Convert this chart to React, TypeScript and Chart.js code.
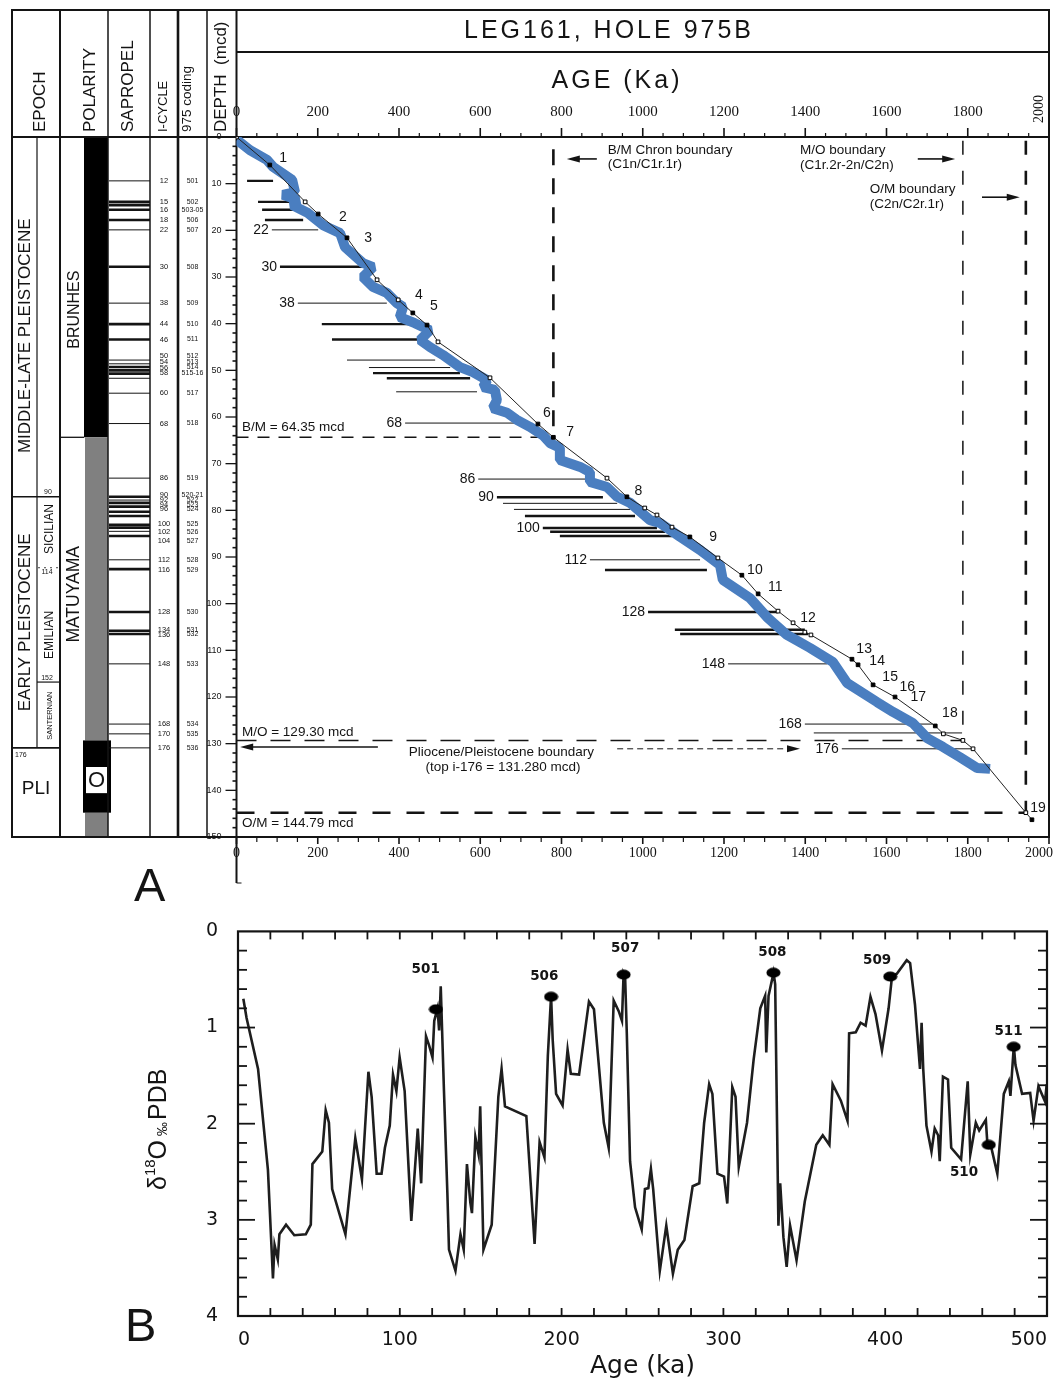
import React, { useEffect, useRef } from 'react';
import { Chart, registerables } from 'chart.js';

Chart.register(...registerables);

const SANS = '"Liberation Sans", Arial, Helvetica, sans-serif';
const SERIF = '"Liberation Serif", "Times New Roman", serif';
const DEJAVU = '"DejaVu Sans", Verdana, sans-serif';
const INK = '#141414';
const BLUE = '#4a7ec0';

// ================= Panel A: LEG161, HOLE 975B age model =================

const ageTicks = [0, 200, 400, 600, 800, 1000, 1200, 1400, 1600, 1800, 2000];
const depthTicks = [0, 10, 20, 30, 40, 50, 60, 70, 80, 90, 100, 110, 120, 130, 140, 150];

// Age-model control points (thin black line), age in ka, depth in mcd
const modelAge = [0, 82, 169, 201, 272, 346, 398, 434, 469, 496, 624, 742, 780, 912, 961, 1005, 1035, 1072, 1116, 1185, 1244, 1284, 1333, 1370, 1399, 1414, 1515, 1530, 1567, 1621, 1720, 1740, 1788, 1813, 1943, 1958];
const modelDepth = [0, 6.0, 13.9, 16.5, 21.6, 30.6, 34.9, 37.7, 40.3, 43.9, 51.6, 61.5, 64.35, 73.1, 77.1, 79.5, 81.0, 83.6, 85.7, 90.2, 93.9, 97.9, 101.6, 104.1, 106.1, 106.7, 111.9, 113.1, 117.4, 120.0, 126.2, 127.9, 129.3, 131.1, 144.79, 146.3];
const modelFilled = [0, 1, 0, 1, 1, 0, 0, 1, 1, 0, 0, 1, 1, 0, 1, 0, 0, 0, 1, 0, 1, 1, 0, 0, 0, 0, 1, 1, 1, 1, 1, 0, 0, 0, 0, 1];

// Tuned record (thick blue band)
const tunedAge = [1, 33, 75, 90, 137, 144, 114, 151, 137, 176, 213, 255, 267, 311, 336, 311, 336, 370, 395, 410, 402, 439, 476, 452, 476, 508, 550, 582, 617, 607, 636, 641, 631, 666, 690, 722, 754, 772, 796, 796, 846, 870, 870, 912, 937, 969, 1018, 1042, 1092, 1141, 1190, 1197, 1264, 1306, 1355, 1412, 1468, 1503, 1577, 1616, 1665, 1700, 1739, 1781, 1823, 1855];
const tunedDepth = [0.6, 2.8, 4.9, 6.4, 9.2, 11.8, 12.4, 13.5, 14.6, 16.3, 18.9, 20.6, 23.6, 27.0, 27.9, 30.0, 32.1, 33.4, 35.6, 36.4, 38.6, 39.9, 41.4, 43.5, 45.0, 46.7, 49.3, 50.4, 52.1, 53.6, 54.2, 56.4, 58.1, 59.1, 60.6, 62.1, 63.9, 65.6, 66.6, 69.2, 70.7, 71.8, 73.9, 75.0, 77.1, 78.4, 82.1, 82.7, 85.7, 88.5, 91.7, 94.9, 98.8, 102.9, 106.7, 109.5, 112.5, 117.0, 121.1, 123.2, 125.6, 128.8, 130.7, 132.9, 135.2, 135.4];

// Control-point numbers
const controlLabel = ['1', '2', '3', '4', '5', '6', '7', '8', '9', '10', '11', '12', '13', '14', '15', '16', '17', '18', '19'];
const controlLabelAge = [115, 262, 324, 449, 486, 764, 821, 989, 1173, 1276, 1326, 1407, 1545, 1577, 1609, 1651, 1678, 1756, 1973];
const controlLabelDepth = [4.5, 17.1, 21.6, 33.9, 36.2, 59.1, 63.2, 75.9, 85.7, 92.8, 96.4, 103.1, 109.7, 112.3, 115.7, 117.9, 120.0, 123.4, 143.8];

// Sapropel (i-cycle) tie lines across the plot
const tieDepth = [9.4, 13.9, 15.6, 17.8, 19.9, 27.8, 35.6, 40.1, 43.4, 47.8, 49.4, 50.6, 51.7, 54.6, 61.3, 73.3, 77.2, 78.5, 79.8, 81.2, 83.8, 84.6, 85.5, 90.6, 92.8, 101.8, 105.6, 106.5, 112.9, 125.8, 127.7, 131.1];
const tieFromAge = [26, 53, 63, 70, 87, 107, 151, 210, 235, 272, 326, 336, 370, 393, 415, 595, 641, 656, 683, 710, 754, 772, 796, 870, 907, 1013, 1079, 1092, 1210, 1399, 1421, 1490];
const tieToAge = [90, 137, 142, 164, 201, 311, 370, 444, 457, 489, 526, 550, 575, 592, 686, 863, 902, 937, 969, 981, 1035, 1055, 1072, 1141, 1158, 1333, 1399, 1407, 1454, 1714, 1786, 1813];
const tieLabel = ['', '', '', '', '22', '30', '38', '', '', '', '', '', '', '', '68', '86', '90', '', '', '', '100', '', '', '112', '', '128', '', '', '148', '168', '', '176'];
const tieBold = [1, 1, 1, 1, 0, 1, 0, 1, 1, 0, 0, 1, 1, 0, 0, 0, 1, 0, 0, 1, 1, 1, 1, 0, 1, 1, 1, 1, 0, 0, 0, 0];

// Magnetostratigraphic boundaries
const bmDepth = 64.35;
const moDepth = 129.3;
const omDepth = 144.79;
const plioPleistDepth = 131.28;
const bmAge = 780;
const moAge = 1788;
const omAge = 1943;

// Notes written on the plot (age, depth of the text anchor)
const noteText = ['B/M Chron boundary', '(C1n/C1r.1r)', 'M/O boundary', '(C1r.2r-2n/C2n)', 'O/M boundary', '(C2n/C2r.1r)',
  `B/M = ${bmDepth.toFixed(2)} mcd`, `M/O = ${moDepth.toFixed(2)} mcd`, `O/M = ${omDepth.toFixed(2)} mcd`,
  'Pliocene/Pleistocene boundary', `(top i-176 = ${plioPleistDepth.toFixed(3)} mcd)`];
const noteAge = [914, 914, 1387, 1387, 1559, 1559, 13.5, 13.5, 13.5, 652, 656];
const noteDepth = [2.8, 5.9, 2.8, 6.1, 11.1, 14.4, 62.1, 127.5, 147.0, 131.8, 135.0];
const noteCentered = [0, 0, 0, 0, 0, 0, 0, 0, 0, 1, 1];

// Arrows (from age to age at a depth)
const arrowFrom = [887, 1677, 1835, 348, 937];
const arrowTo = [813, 1769, 1928, 9, 1387];
const arrowDepth = [4.7, 4.7, 12.9, 130.7, 131.1];
const arrowDashed = [0, 0, 0, 0, 1];

// Stratigraphic column: sapropel lines
const sapropelDepth = [9.4, 13.9, 14.6, 15.6, 17.8, 19.9, 27.8, 35.6, 40.1, 43.4, 47.8, 48.6, 49.3, 50.0, 50.7, 51.7, 54.9, 61.4, 73.1, 77.1, 77.8, 78.4, 79.2, 80.3, 81.2, 83.1, 83.7, 84.5, 85.5, 90.6, 92.6, 101.8, 105.8, 106.5, 112.9, 125.8, 127.9, 130.9];
const sapropelBold = [0, 1, 1, 1, 1, 0, 1, 0, 1, 1, 0, 0, 1, 1, 1, 0, 0, 0, 0, 1, 0, 1, 1, 1, 1, 1, 1, 0, 1, 0, 1, 1, 1, 1, 0, 0, 0, 0];

// Stratigraphic column: i-cycle numbers and 975 coding
const iCycleNumber = ['12', '15', '16', '18', '22', '30', '38', '44', '46', '50', '54', '56', '58', '60', '68', '86', '90', '92', '94', '96', '100', '102', '104', '112', '116', '128', '134', '136', '148', '168', '170', '176'];
const iCycleDepth = [9.4, 13.9, 15.6, 17.8, 19.9, 27.8, 35.6, 40.1, 43.4, 47.0, 48.2, 49.4, 50.6, 54.9, 61.4, 73.1, 76.8, 77.8, 78.8, 79.8, 82.9, 84.6, 86.6, 90.6, 92.8, 101.8, 105.6, 106.6, 112.9, 125.8, 127.9, 131.0];
const iCycleCode = ['501', '502', '503-05', '506', '507', '508', '509', '510', '511', '512', '513', '514', '515-16', '517', '518', '519', '520-21', '522', '523', '524', '525', '526', '527', '528', '529', '530', '531', '532', '533', '534', '535', '536'];

// Epochs and stages
const epochName = ['MIDDLE-LATE PLEISTOCENE', 'EARLY PLEISTOCENE'];
const epochLabelDepth = [42.6, 104];
const stageName = ['SICILIAN', 'EMILIAN', 'SANTERNIAN'];
const stageLabelDepth = [84, 106.7, 124];
const stageBaseCycle = ['90', '114', '152', '176'];
const stageBaseDepth = [77.1, 92.3, 116.8, 130.9];
const polarityName = ['BRUNHES', 'MATUYAMA'];
const polarityLabelDepth = [37, 98];
const olduvaiTag = [135.0, 140.6];

// ================= Panel B: oxygen isotope record =================

const isoAgeTicks = [0, 100, 200, 300, 400, 500];
const isoValueTicks = [0, 1, 2, 3, 4];

const d18oAge = [3.3, 5.3, 12.4, 14.5, 18.5, 21.6, 22.6, 24.6, 25.6, 29.7,
  34.8, 41.9, 45.0, 46.0, 52.1, 54.2, 56.2, 58.2, 66.4, 72.5,
  76.6, 80.6, 82.6, 85.7, 88.7, 90.8, 93.8, 95.8, 97.9, 99.9,
  103.0, 107.1, 110.1, 111.1, 113.2, 116.2, 118.2, 120.2, 121.3, 123.3,
  124.3, 125.3, 127.3, 129.4, 130.4, 134.4, 137.5, 139.5, 141.5, 143.6,
  144.6, 146.7, 148.7, 149.7, 151.7, 156.8, 160.9, 162.9, 165.0, 178.2,
  183.3, 186.4, 189.4, 191.5, 193.5, 194.5, 196.6, 200.6, 203.7, 205.7,
  210.8, 216.9, 220.0, 226.1, 229.1, 232.2, 235.3, 237.3, 238.3, 239.3,
  240.3, 242.3, 245.4, 249.5, 251.5, 253.6, 255.2, 256.6, 260.7, 264.7,
  268.8, 271.8, 275.9, 281.0, 285.1, 288.1, 291.2, 293.2, 296.3, 300.4,
  302.4, 305.5, 307.5, 309.5, 314.6, 318.7, 322.8, 325.8, 326.5, 327.9,
  331.0, 332.0, 334.0, 335.1, 337.1, 339.1, 341.2, 345.2, 350.3, 357.4,
  361.4, 365.5, 367.5, 372.6, 376.7, 377.7, 381.8, 384.8, 387.9, 390.9,
  394.0, 398.0, 402.1, 404.2, 407.2, 413.3, 415.4, 418.4, 421.5, 422.5,
  423.5, 425.5, 428.6, 430.6, 432.7, 433.7, 435.7, 438.8, 440.8, 446.9,
  451.0, 452.6, 456.0, 458.1, 462.2, 463.2, 465.2, 469.3, 473.3, 476.4,
  477.4, 479.5, 480.5, 484.6, 489.6, 491.7, 494.7, 498.8, 499.8];
const d18oValue = [0.70, 0.90, 1.43, 1.79, 2.48, 3.61, 3.26, 3.41, 3.15, 3.05,
  3.16, 3.15, 3.05, 2.42, 2.29, 1.86, 1.99, 2.68, 3.15, 2.15,
  2.58, 1.46, 1.72, 2.52, 2.52, 2.25, 2.02, 1.49, 1.66, 1.31,
  1.66, 3.01, 2.29, 2.05, 2.62, 1.09, 1.19, 1.31, 0.93, 0.80,
  1.03, 0.57, 1.66, 2.72, 3.31, 3.53, 3.15, 3.31, 2.42, 2.82,
  2.93, 2.14, 2.32, 1.82, 3.31, 3.05, 1.72, 1.43, 1.82, 1.92,
  3.25, 2.19, 2.35, 1.29, 0.67, 1.13, 1.69, 1.81, 1.23, 1.48,
  1.49, 0.73, 0.81, 1.99, 2.25, 0.72, 0.83, 0.93, 0.45, 0.50,
  1.06, 2.39, 2.87, 3.10, 2.68, 2.67, 2.47, 2.68, 3.53, 3.06,
  3.56, 3.31, 3.21, 2.65, 2.62, 1.99, 1.59, 1.69, 2.52, 2.55,
  2.83, 1.62, 1.72, 2.45, 1.99, 1.33, 0.80, 0.67, 1.26, 0.67,
  0.43, 0.55, 3.06, 2.62, 3.18, 3.49, 3.06, 3.42, 2.81, 2.22,
  2.12, 2.22, 1.59, 1.76, 1.97, 1.06, 1.05, 0.95, 0.98, 0.68,
  0.86, 1.24, 0.80, 0.47, 0.44, 0.30, 0.33, 0.76, 1.43, 0.95,
  1.43, 2.02, 2.29, 2.05, 2.12, 2.39, 1.51, 1.54, 2.25, 2.37,
  1.56, 2.32, 1.99, 2.07, 1.96, 2.22, 2.22, 2.52, 1.69, 1.56,
  1.71, 1.19, 1.39, 1.69, 1.68, 1.97, 1.61, 1.77, 1.59];

// Sapropel midpoints on the isotope record
const sapName = ['501', '506', '507', '508', '509', '510', '511'];
const sapAge = [122.3, 193.5, 238.3, 330.9, 403.1, 464.0, 479.4];
const sapValue = [0.81, 0.68, 0.45, 0.43, 0.47, 2.22, 1.20];
const sapNameAge = [116.0, 189.3, 239.3, 330.3, 395.0, 448.7, 476.2];
const sapNameValue = [0.40, 0.47, 0.18, 0.22, 0.30, 2.51, 1.04];

// ----------------------------------------------------------------------

type Ctx = CanvasRenderingContext2D;

function stroke(ctx: Ctx, x1: number, y1: number, x2: number, y2: number, width: number, dash: number[] = []) {
  ctx.save();
  ctx.lineWidth = width;
  ctx.setLineDash(dash);
  ctx.beginPath();
  ctx.moveTo(x1, y1);
  ctx.lineTo(x2, y2);
  ctx.stroke();
  ctx.restore();
}

function text(ctx: Ctx, s: string, x: number, y: number, font: string, align: CanvasTextAlign = 'left') {
  ctx.save();
  ctx.font = font;
  ctx.textAlign = align;
  ctx.textBaseline = 'middle';
  ctx.fillText(s, x, y);
  ctx.restore();
}

function vtext(ctx: Ctx, s: string, x: number, y: number, font: string, align: CanvasTextAlign = 'center') {
  ctx.save();
  ctx.translate(x, y);
  ctx.rotate(-Math.PI / 2);
  ctx.font = font;
  ctx.textAlign = align;
  ctx.textBaseline = 'middle';
  ctx.fillText(s, 0, 0);
  ctx.restore();
}

function arrow(ctx: Ctx, x1: number, x2: number, y: number, width: number, dash: number[] = []) {
  const dir = Math.sign(x2 - x1);
  stroke(ctx, x1, y, x2 - dir * 9, y, width, dash);
  ctx.beginPath();
  ctx.moveTo(x2, y);
  ctx.lineTo(x2 - dir * 13, y - 3.5);
  ctx.lineTo(x2 - dir * 13, y + 3.5);
  ctx.closePath();
  ctx.fill();
}

function buildPanelA(canvas: HTMLCanvasElement) {
  const columnPlugin = {
    id: 'stratColumn',
    beforeDatasetsDraw(chart: any) {
      const ctx: Ctx = chart.ctx;
      const ar = chart.chartArea;
      const Y = (d: number) => chart.scales.y.getPixelForValue(d);
      const X = (a: number) => chart.scales.x.getPixelForValue(a);
      const top = 10;
      const head = ar.top;
      const bot = ar.bottom;
      ctx.save();
      ctx.strokeStyle = INK;

      // polarity column
      ctx.fillStyle = '#000';
      ctx.fillRect(84, Y(0), 24, Y(bmDepth) - Y(0));
      ctx.fillStyle = '#808080';
      ctx.fillRect(85, Y(bmDepth), 23, Y(moDepth) - Y(bmDepth));
      ctx.fillRect(85, Y(omDepth), 23, bot - Y(omDepth));
      ctx.fillStyle = '#000';
      ctx.fillRect(83, Y(moDepth), 28, Y(omDepth) - Y(moDepth));
      ctx.fillStyle = '#fff';
      ctx.fillRect(86, Y(olduvaiTag[0]), 21, Y(olduvaiTag[1]) - Y(olduvaiTag[0]));
      ctx.fillStyle = INK;
      text(ctx, 'O', 96.5, (Y(olduvaiTag[0]) + Y(olduvaiTag[1])) / 2 + 1, `22px ${SANS}`, 'center');
      stroke(ctx, 60, Y(bmDepth), 84, Y(bmDepth), 1.3);
      polarityName.forEach((s, i) => vtext(ctx, s, 74.5, Y(polarityLabelDepth[i]), `${i ? 17.5 : 16}px ${SANS}`));

      // sapropel column
      sapropelDepth.forEach((d, i) => stroke(ctx, 109, Y(d), 150, Y(d), sapropelBold[i] ? 2.6 : 1));

      // i-cycle and 975 coding columns
      iCycleNumber.forEach((s, i) => {
        text(ctx, s, 164, Y(iCycleDepth[i]), `7.5px ${SANS}`, 'center');
        text(ctx, iCycleCode[i], 192.5, Y(iCycleDepth[i]), `7px ${SANS}`, 'center');
      });

      // epoch column
      stroke(ctx, 37, head, 37, Y(stageBaseDepth[3]), 1.2);
      stroke(ctx, 12, Y(stageBaseDepth[0]), 60, Y(stageBaseDepth[0]), 1.6);
      stroke(ctx, 38, Y(stageBaseDepth[1]), 59, Y(stageBaseDepth[1]), 0.8, [2, 4]);
      stroke(ctx, 37, Y(stageBaseDepth[2]), 60, Y(stageBaseDepth[2]), 1.2);
      stroke(ctx, 12, Y(stageBaseDepth[3]), 60, Y(stageBaseDepth[3]), 1.6);
      epochName.forEach((s, i) => vtext(ctx, s, 25, Y(epochLabelDepth[i]), `17px ${SANS}`));
      stageName.forEach((s, i) => vtext(ctx, s, 49.5, Y(stageLabelDepth[i]), `${i === 2 ? 7.5 : 12}px ${SANS}`));
      text(ctx, stageBaseCycle[0], 48, Y(stageBaseDepth[0]) - 5, `7px ${SANS}`, 'center');
      text(ctx, stageBaseCycle[1], 47, Y(stageBaseDepth[1]) + 4, `7px ${SANS}`, 'center');
      text(ctx, stageBaseCycle[2], 47, Y(stageBaseDepth[2]) - 4, `7px ${SANS}`, 'center');
      text(ctx, stageBaseCycle[3], 15, Y(stageBaseDepth[3]) + 7, `7px ${SANS}`, 'left');
      text(ctx, 'PLI', 36, Y(139.7), `19px ${SANS}`, 'center');

      // header captions
      vtext(ctx, 'EPOCH', 40, 132, `17px ${SANS}`, 'left');
      vtext(ctx, 'POLARITY', 90, 132, `17px ${SANS}`, 'left');
      vtext(ctx, 'SAPROPEL', 128.5, 132, `17px ${SANS}`, 'left');
      vtext(ctx, 'I-CYCLE', 163.5, 132, `13px ${SANS}`, 'left');
      vtext(ctx, '975 coding', 187.5, 132, `13.5px ${SANS}`, 'left');
      vtext(ctx, 'DEPTH  (mcd)', 221, 132, `17px ${SANS}`, 'left');

      // frame and column rules
      [[12, 2], [60, 2], [108, 1.5], [150, 1.5], [178, 2.6], [207, 1.5]].forEach(([x, w]) => stroke(ctx, x, top, x, bot, w));
      stroke(ctx, ar.left, top, ar.left, bot + 46, 2);
      stroke(ctx, ar.left, bot + 46, ar.left + 5, bot + 46, 1);
      stroke(ctx, ar.right, top, ar.right, bot, 2);
      stroke(ctx, 11, top, ar.right + 1, top, 2);
      stroke(ctx, ar.left, 52, ar.right, 52, 2);
      stroke(ctx, 12, head, ar.right, head, 1.8);
      stroke(ctx, 11, bot, ar.right + 1, bot, 2);

      // axis tick marks
      for (let v = 0; v <= 2000; v += 50) {
        const px = X(v);
        const major = v % 200 === 0;
        stroke(ctx, px, head, px, head - (major ? 9 : 4), major ? 1.6 : 1.2);
        stroke(ctx, px, bot, px, bot + (major ? 7 : 5), major ? 1.6 : 1.2);
      }
      for (let d = 0; d <= 150; d += 2) {
        const major = d % 10 === 0;
        stroke(ctx, ar.left, Y(d), ar.left - (major ? 11 : 4), Y(d), major ? 1.3 : 1.6);
      }

      // boundary lines
      stroke(ctx, ar.left, Y(bmDepth), X(bmAge), Y(bmDepth), 1.6, [12, 9]);
      stroke(ctx, X(bmAge), Y(2.6), X(bmAge), Y(bmDepth), 2.6, [16, 13]);
      stroke(ctx, ar.left, Y(moDepth), X(moAge), Y(moDepth), 1.5, [20, 14]);
      stroke(ctx, X(moAge), Y(0.8), X(moAge), Y(moDepth), 1.5, [14, 16]);
      stroke(ctx, ar.left, Y(omDepth), X(omAge), Y(omDepth), 2.6, [18, 16]);
      stroke(ctx, X(omAge), Y(0.8), X(omAge), Y(omDepth), 2.6, [14, 16]);
      ctx.restore();
    },
    afterDatasetsDraw(chart: any) {
      const ctx: Ctx = chart.ctx;
      const ar = chart.chartArea;
      const Y = (d: number) => chart.scales.y.getPixelForValue(d);
      const X = (a: number) => chart.scales.x.getPixelForValue(a);
      ctx.save();
      ctx.fillStyle = INK;
      ctx.strokeStyle = INK;

      tieLabel.forEach((s, i) => { if (s) text(ctx, s, X(tieFromAge[i]) - 3, Y(tieDepth[i]), `14px ${SANS}`, 'right'); });
      controlLabel.forEach((s, i) => text(ctx, s, X(controlLabelAge[i]), Y(controlLabelDepth[i]), `14px ${SANS}`, 'center'));
      noteText.forEach((s, i) => text(ctx, s, X(noteAge[i]), Y(noteDepth[i]), `13.5px ${SANS}`, noteCentered[i] ? 'center' : 'left'));
      arrowFrom.forEach((a, i) => arrow(ctx, X(a), X(arrowTo[i]), Y(arrowDepth[i]), arrowDashed[i] ? 1 : 1.6, arrowDashed[i] ? [6, 4] : []));

      // title rows
      ctx.font = `25px ${SANS}`;
      (ctx as any).letterSpacing = '3px';
      ctx.textAlign = 'center';
      ctx.textBaseline = 'middle';
      ctx.fillText('LEG161, HOLE 975B', 609, 31);
      ctx.fillText('AGE (Ka)', 617, 81);
      (ctx as any).letterSpacing = '0px';

      // last age labels sit inside the frame
      vtext(ctx, String(ageTicks[ageTicks.length - 1]), X(2000) - 10, 109, `14px ${SERIF}`);
      text(ctx, String(ageTicks[ageTicks.length - 1]), X(2000) - 10, ar.bottom + 16, `14px ${SERIF}`, 'center');
      ctx.restore();
    },
  };

  const tieSets = tieDepth.map((d, i) => ({
    data: [{ x: tieFromAge[i], y: d }, { x: tieToAge[i], y: d }],
    showLine: true,
    borderColor: INK,
    borderWidth: tieBold[i] ? 2.4 : 1,
    pointRadius: 0,
    order: 3,
  }));

  return new Chart(canvas, {
    type: 'scatter',
    data: {
      datasets: [
        {
          data: modelAge.map((a, i) => ({ x: a, y: modelDepth[i] })),
          showLine: true,
          borderColor: '#222',
          borderWidth: 1,
          pointStyle: 'rect',
          pointRadius: 2.6,
          pointBorderWidth: 1,
          pointBorderColor: '#000',
          pointBackgroundColor: modelFilled.map((f) => (f ? '#000' : '#fff')),
          order: 0,
        },
        {
          data: tunedAge.map((a, i) => ({ x: a, y: tunedDepth[i] })),
          showLine: true,
          borderColor: BLUE,
          borderWidth: 10,
          borderJoinStyle: 'bevel',
          pointRadius: 0,
          order: 1,
        },
        ...tieSets,
      ],
    },
    options: {
      animation: false,
      responsive: false,
      events: [],
      layout: { padding: { left: 0, right: 11, top: 0, bottom: 0 } },
      plugins: { legend: { display: false }, tooltip: { enabled: false }, title: { display: false } },
      scales: {
        x: {
          type: 'linear',
          position: 'top',
          min: 0,
          max: 2000,
          afterBuildTicks: (s: any) => { s.ticks = ageTicks.map((v) => ({ value: v })); },
          afterFit: (s: any) => { s.height = 137; s.paddingLeft = 0; s.paddingRight = 0; },
          grid: { display: false, drawTicks: false },
          border: { display: false },
          ticks: {
            padding: 16, maxRotation: 0, autoSkip: false, color: INK,
            font: { family: SERIF, size: 15 },
            callback: (v: any) => (v === 2000 ? '' : String(v)),
          },
        },
        x2: {
          type: 'linear',
          position: 'bottom',
          min: 0,
          max: 2000,
          afterBuildTicks: (s: any) => { s.ticks = ageTicks.map((v) => ({ value: v })); },
          afterFit: (s: any) => { s.height = 63; s.paddingLeft = 0; s.paddingRight = 0; },
          grid: { display: false, drawTicks: false },
          border: { display: false },
          ticks: {
            padding: 8, maxRotation: 0, autoSkip: false, color: INK,
            font: { family: SERIF, size: 14 },
            callback: (v: any) => (v === 2000 ? '' : String(v)),
          },
        },
        y: {
          type: 'linear',
          position: 'left',
          reverse: true,
          min: 0,
          max: 150,
          afterBuildTicks: (s: any) => { s.ticks = depthTicks.map((v) => ({ value: v })); },
          afterFit: (s: any) => { s.width = 236.5; s.paddingTop = 0; s.paddingBottom = 0; },
          grid: { display: false, drawTicks: false },
          border: { display: false },
          ticks: { padding: 15, autoSkip: false, color: INK, font: { family: SANS, size: 9 } },
        },
      },
    },
    plugins: [columnPlugin],
  } as any);
}

function buildPanelB(canvas: HTMLCanvasElement) {
  // filled oval used for the sapropel markers
  const oval = document.createElement('canvas');
  oval.width = 15;
  oval.height = 11;
  const octx = oval.getContext('2d') as Ctx;
  octx.fillStyle = '#000';
  octx.beginPath();
  octx.ellipse(7.5, 5.5, 7, 5, 0, 0, Math.PI * 2);
  octx.fill();

  const framePlugin = {
    id: 'isotopeFrame',
    afterDatasetsDraw(chart: any) {
      const ctx: Ctx = chart.ctx;
      const ar = chart.chartArea;
      const xs = chart.scales.x;
      const ys = chart.scales.y;
      ctx.save();
      ctx.strokeStyle = INK;
      ctx.fillStyle = INK;
      ctx.lineWidth = 2.2;
      ctx.strokeRect(ar.left, ar.top, ar.right - ar.left, ar.bottom - ar.top);
      for (let k = 1; k < 20; k++) {
        const py = ys.getPixelForValue(k * 0.2);
        const len = k % 5 === 0 ? 17 : 9;
        stroke(ctx, ar.left, py, ar.left + len, py, 1.8);
        stroke(ctx, ar.right, py, ar.right - len, py, 1.8);
      }
      for (let t = 20; t < 500; t += 20) {
        const px = xs.getPixelForValue(t);
        stroke(ctx, px, ar.top, px, ar.top + 8, 1.8);
        stroke(ctx, px, ar.bottom, px, ar.bottom - 8, 1.8);
      }
      sapName.forEach((s, i) => text(ctx, s, xs.getPixelForValue(sapNameAge[i]), ys.getPixelForValue(sapNameValue[i]), `bold 13.5px ${DEJAVU}`, 'center'));

      // y-axis caption: delta 18 O permil PDB
      ctx.translate(157, ar.bottom - 126);
      ctx.rotate(-Math.PI / 2);
      ctx.textAlign = 'left';
      ctx.textBaseline = 'alphabetic';
      let x = 0;
      const put = (s: string, font: string, dy: number, gap = 0) => {
        ctx.font = font;
        ctx.fillText(s, x, 9 + dy);
        x += ctx.measureText(s).width + gap;
      };
      put('δ', `25px ${SANS}`, 0);
      put('18', `15px ${SANS}`, -11);
      put('O', `25px ${SANS}`, 0, 4);
      put('‰', `14px ${SANS}`, 1, 2);
      put('PDB', `25px ${SANS}`, 0);
      ctx.restore();
    },
  };

  return new Chart(canvas, {
    type: 'scatter',
    data: {
      datasets: [
        {
          data: sapAge.map((a, i) => ({ x: a, y: sapValue[i] })),
          showLine: false,
          pointStyle: oval,
          pointRadius: 6,
          order: 0,
        },
        {
          data: d18oAge.map((a, i) => ({ x: a, y: d18oValue[i] })),
          showLine: true,
          borderColor: '#1e1e1e',
          borderWidth: 2.6,
          pointRadius: 0,
          order: 1,
        },
      ],
    },
    options: {
      animation: false,
      responsive: false,
      events: [],
      layout: { padding: { left: 0, right: 3, top: 13, bottom: 0 } },
      plugins: { legend: { display: false }, tooltip: { enabled: false } },
      scales: {
        x: {
          type: 'linear',
          position: 'bottom',
          min: 0,
          max: 500,
          afterBuildTicks: (s: any) => { s.ticks = isoAgeTicks.map((v) => ({ value: v })); },
          afterFit: (s: any) => { s.height = 65; },
          grid: { display: false, drawTicks: false },
          border: { display: false },
          ticks: { padding: 13, align: 'inner', maxRotation: 0, autoSkip: false, color: INK, font: { family: DEJAVU, size: 19 } },
          title: { display: true, text: 'Age (ka)', color: INK, font: { family: DEJAVU, size: 25 }, padding: { top: 0, bottom: 0 } },
        },
        y: {
          type: 'linear',
          position: 'left',
          reverse: true,
          min: 0,
          max: 4,
          afterBuildTicks: (s: any) => { s.ticks = isoValueTicks.map((v) => ({ value: v })); },
          afterFit: (s: any) => { s.width = 238; },
          grid: { display: false, drawTicks: false },
          border: { display: false },
          ticks: { padding: 20, autoSkip: false, color: INK, font: { family: DEJAVU, size: 19 } },
        },
      },
    },
    plugins: [framePlugin],
  } as any);
}

export default function App() {
  const refA = useRef<HTMLCanvasElement>(null);
  const refB = useRef<HTMLCanvasElement>(null);

  useEffect(() => {
    const chartA = buildPanelA(refA.current as HTMLCanvasElement);
    const chartB = buildPanelB(refB.current as HTMLCanvasElement);
    return () => {
      chartA.destroy();
      chartB.destroy();
    };
  }, []);

  const panelTag: React.CSSProperties = {
    position: 'absolute',
    font: `47px ${SANS}`,
    lineHeight: '47px',
    color: INK,
  };

  return (
    <div style={{ position: 'absolute', left: 0, top: 0, width: 1060, height: 1381, background: '#fff', overflow: 'hidden' }}>
      <canvas ref={refA} width={1060} height={900} style={{ position: 'absolute', left: 0, top: 0 }} />
      <canvas ref={refB} width={1060} height={481} style={{ position: 'absolute', left: 0, top: 900 }} />
      <div style={{ ...panelTag, left: 134, top: 861 }}>A</div>
      <div style={{ ...panelTag, left: 125, top: 1301 }}>B</div>
    </div>
  );
}
